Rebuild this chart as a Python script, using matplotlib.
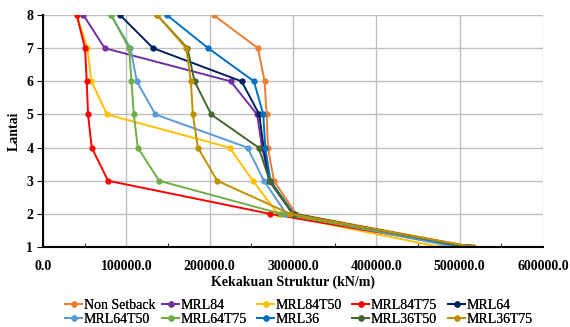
import matplotlib
matplotlib.use("Agg")
import matplotlib.pyplot as plt
from matplotlib.ticker import MultipleLocator, FormatStrFormatter

# lantai (floor levels)
floors = [1, 2, 3, 4, 5, 6, 7, 8]

# kekakuan struktur (kN/m) per floor
non_setback = [516500, 303700, 277200, 270000, 268400, 266000, 258000, 204700]
mrl84 = [509000, 300000, 272000, 263000, 257000, 225200, 74100, 48500]
mrl84t50 = [476000, 282000, 252000, 223900, 76900, 58100, 53300, 40500]
mrl84t75 = [506000, 272800, 78100, 58500, 54100, 52500, 50500, 40500]
mrl64 = [503200, 300000, 271500, 264800, 259600, 238400, 132200, 92500]
mrl64t50 = [495200, 292000, 265200, 245500, 135000, 112600, 105000, 81700]
mrl64t75 = [511000, 286000, 139400, 113800, 109000, 106200, 103400, 81700]
mrl36 = [509000, 301000, 273000, 266800, 264400, 253200, 198300, 148700]
mrl36t50 = [513000, 300000, 272000, 258800, 201900, 181900, 173400, 137000]
mrl36t75 = [516000, 296900, 209100, 185900, 179900, 177500, 171900, 137000]

series = [
    ("Non Setback", non_setback, "#ED7D31"),
    ("MRL84", mrl84, "#7030A0"),
    ("MRL84T50", mrl84t50, "#FFC000"),
    ("MRL84T75", mrl84t75, "#FF0000"),
    ("MRL64", mrl64, "#002060"),
    ("MRL64T50", mrl64t50, "#5B9BD5"),
    ("MRL64T75", mrl64t75, "#70AD47"),
    ("MRL36", mrl36, "#0070C0"),
    ("MRL36T50", mrl36t50, "#43682B"),
    ("MRL36T75", mrl36t75, "#BF9000"),
]

plt.rcParams['font.family'] = ['Liberation Serif', 'DejaVu Serif']

fig = plt.figure(figsize=(5.7, 3.27), dpi=100)
ax = fig.add_axes([0.0754, 0.2446, 0.877, 0.7094])

for name, vals, col in series:
    ax.plot(vals, floors, color=col, lw=1.4, marker="o", ms=3.5, label=name)

ax.set_xlim(0, 600000)
ax.set_ylim(1, 8)
ax.xaxis.set_major_locator(MultipleLocator(100000))
ax.xaxis.set_minor_locator(MultipleLocator(50000))
ax.xaxis.set_major_formatter(FormatStrFormatter("%.1f"))
ax.yaxis.set_major_locator(MultipleLocator(1))

ax.grid(True, which="major", color="#BFBFBF", lw=1.0)
ax.set_axisbelow(True)
for s in ["top", "right"]:
    ax.spines[s].set_visible(False)
for s in ["left", "bottom"]:
    ax.spines[s].set_linewidth(1.5)
    ax.spines[s].set_color("black")

ax.tick_params(axis="x", which="major", length=0, pad=9)
ax.tick_params(axis="x", which="minor", direction="in", length=3)
ax.tick_params(axis="y", length=4, direction="out", pad=3)
for lab in ax.get_xticklabels() + ax.get_yticklabels():
    lab.set_fontweight("bold")
    lab.set_fontsize(10)

ax.set_xlabel("Kekakuan Struktur (kN/m)", fontsize=10, fontweight="bold", labelpad=2)
ax.set_ylabel("Lantai", fontsize=10, fontweight="bold", labelpad=4)

# Excel-style legend: 5 equal-width columns, filled row by row
h, l = ax.get_legend_handles_labels()
col_x = [65, 162, 257, 352, 448]
for c, x in enumerate(col_x):
    leg = fig.legend([h[c], h[c + 5]], [l[c], l[c + 5]],
                     loc="upper left", bbox_to_anchor=(x / 570, 0.087),
                     frameon=False, fontsize=10, handlelength=1.25,
                     handletextpad=0.1, labelspacing=0.1, borderpad=0,
                     borderaxespad=0)
    fig.add_artist(leg)

fig.savefig("out.png", dpi=100)
